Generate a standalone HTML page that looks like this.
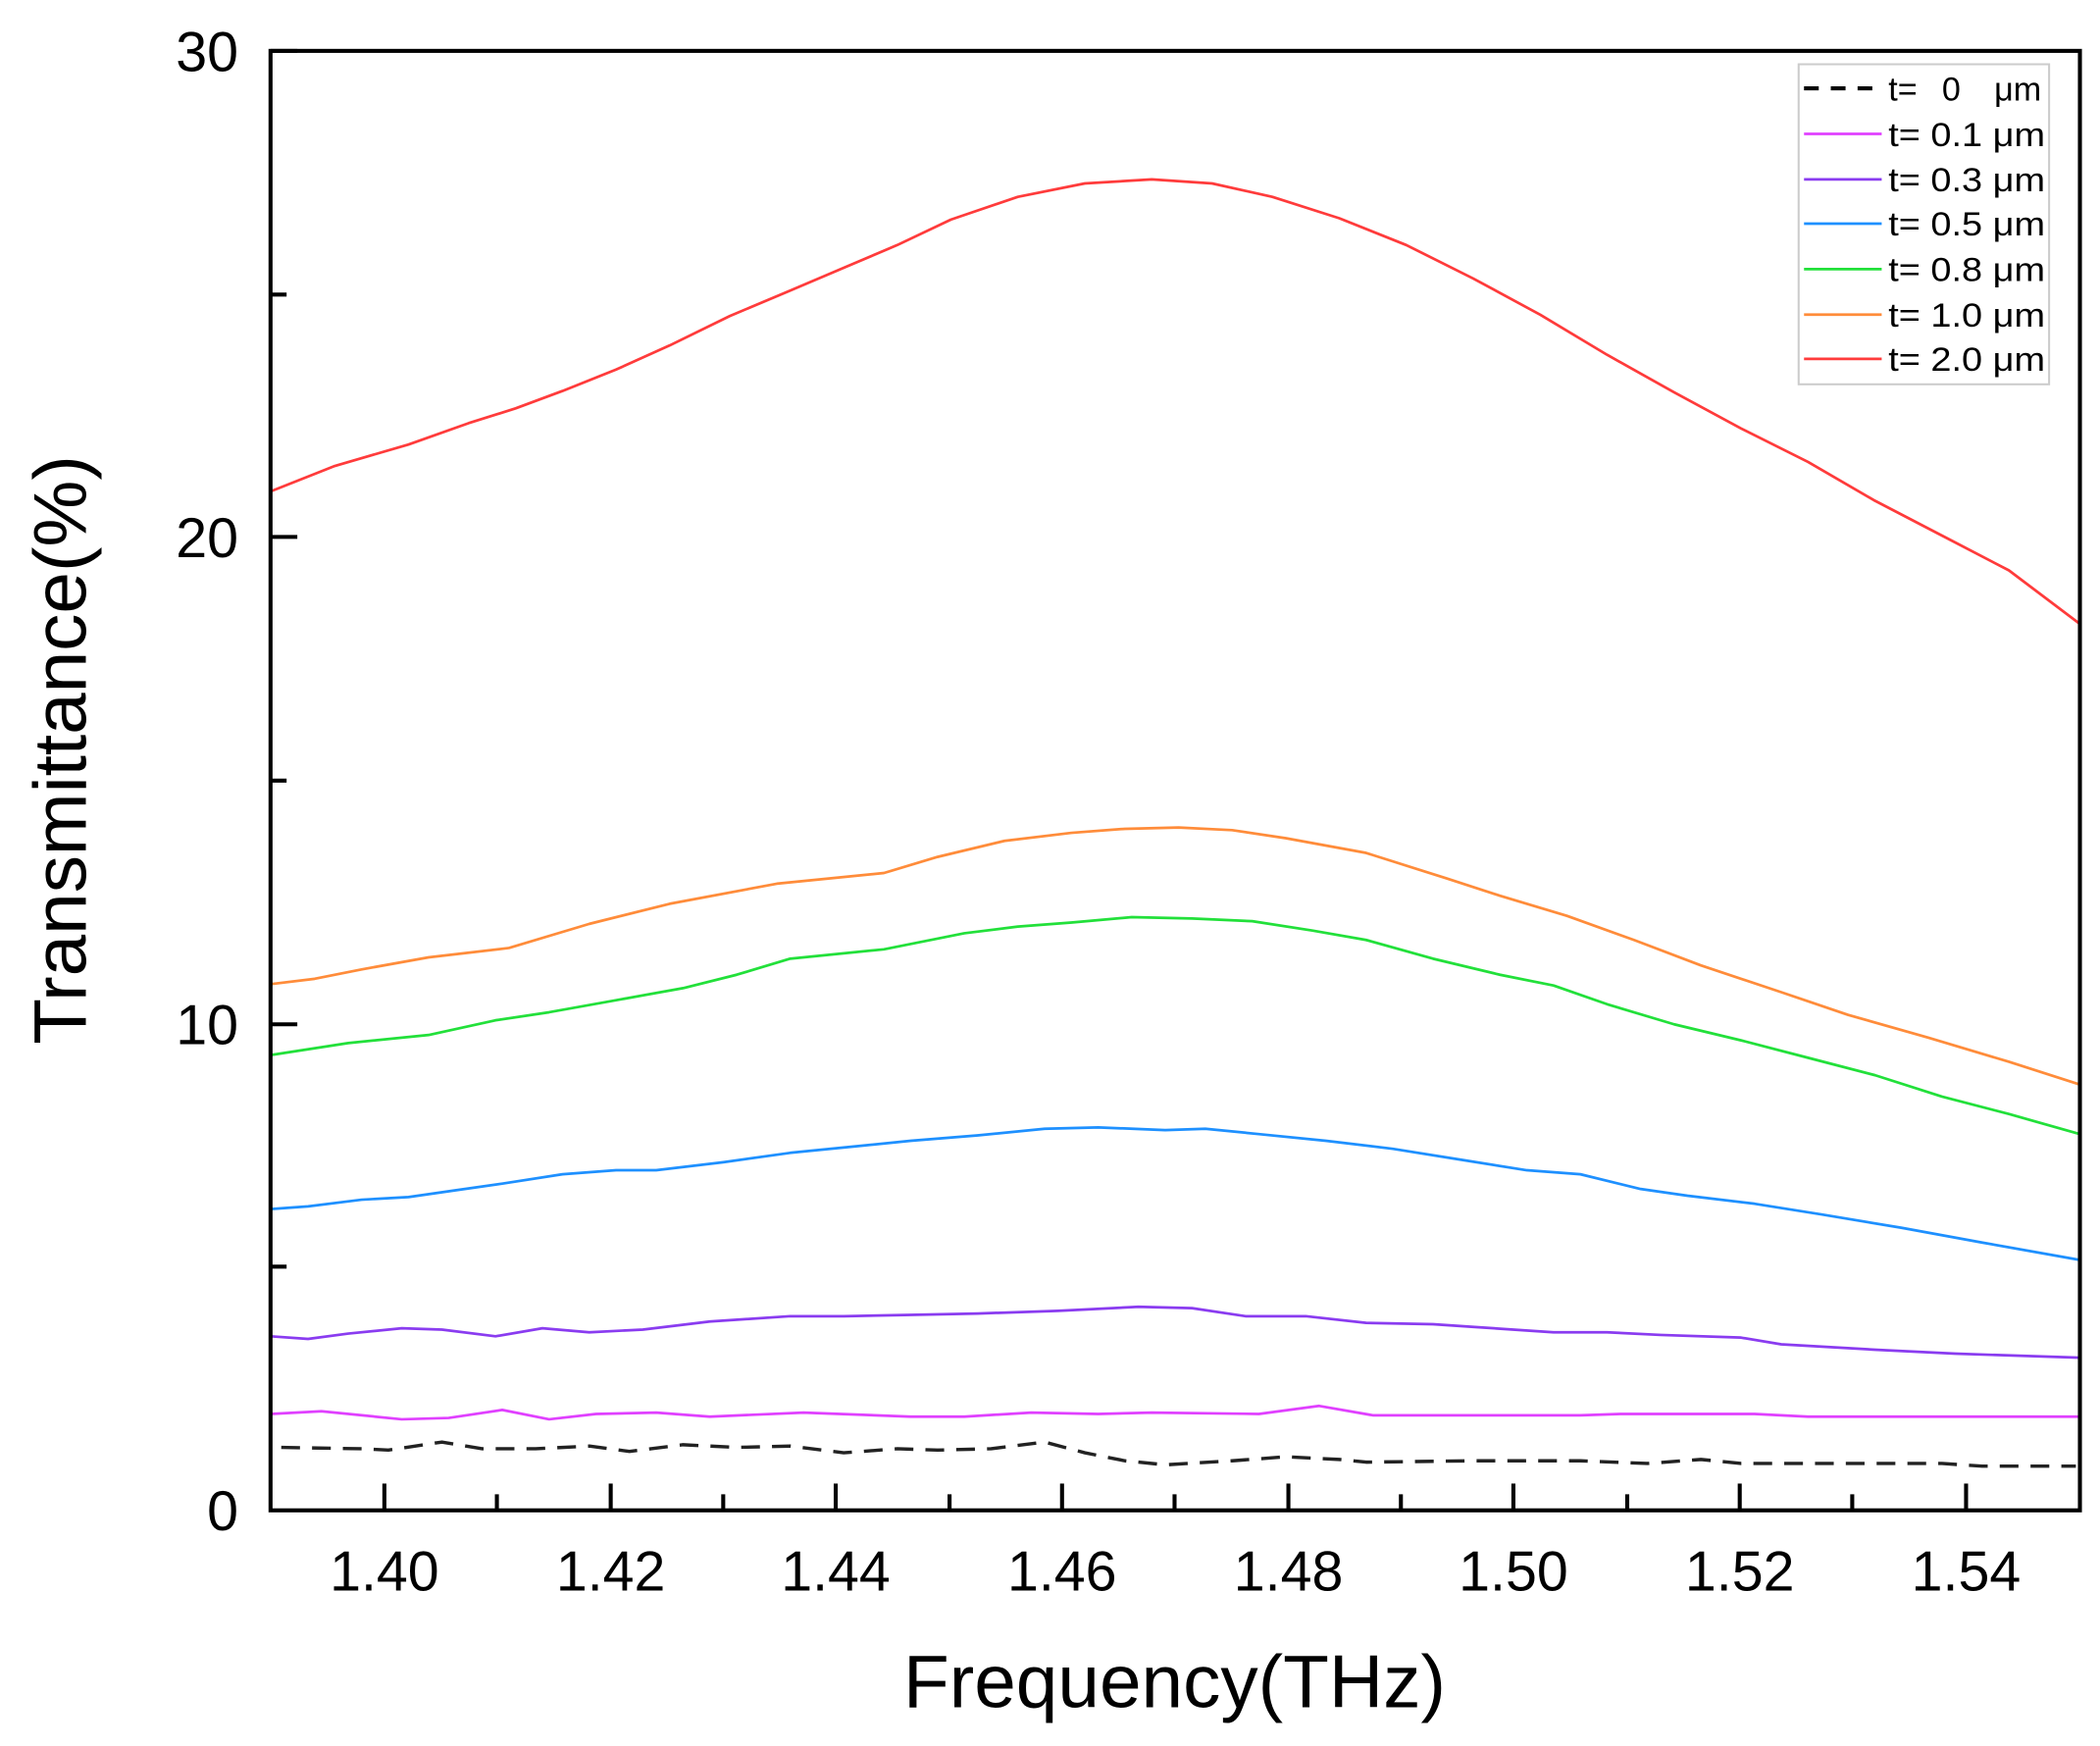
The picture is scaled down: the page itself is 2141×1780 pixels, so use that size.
<!DOCTYPE html>
<html><head><style>html,body{margin:0;padding:0;background:#fff}svg{display:block}</style></head>
<body>
<svg width="2141" height="1780" viewBox="0 0 1568 1304" preserveAspectRatio="none" xmlns="http://www.w3.org/2000/svg" font-family="Liberation Sans, Arial, sans-serif">
<rect width="1568" height="1304" fill="#fff"/>
<g fill="none" stroke-width="2" stroke-linejoin="round">
<polyline stroke="#ff3b3b" points="202,367 250,348 305,332 350,316 385,305 420,292 460,276 500,258 545,236 590,217 630,200 670,183 710,164 760,147 810,137 860,134 905,137 950,147 1000,163 1050,183 1100,208 1150,235 1200,265 1250,293 1300,320 1350,345 1400,374 1450,400 1500,426 1553,466"/>
<polyline stroke="#ff8c3a" points="202,735 235,731 270,724 320,715 380,708 440,690 500,675 580,660 660,652 700,640 750,628 800,622 840,619 880,618 920,620 960,626 1020,637 1080,656 1120,669 1170,684 1220,702 1270,721 1330,741 1380,758 1440,775 1500,793 1553,810"/>
<polyline stroke="#22e03a" points="202,788 260,779 320,773 370,762 410,756 460,747 510,738 550,728 590,716 660,709 720,697 760,692 800,689 845,685 890,686 935,688 980,695 1020,702 1070,716 1120,728 1160,736 1200,750 1250,765 1300,777 1350,790 1400,803 1450,819 1500,832 1553,847"/>
<polyline stroke="#1e90ff" points="202,903 230,901 270,896 305,894 340,889 375,884 420,877 460,874 490,874 540,868 590,861 640,856 680,852 730,848 780,843 820,842 870,844 900,843 940,847 990,852 1040,858 1090,866 1140,874 1180,877 1225,888 1260,893 1310,899 1360,907 1420,917 1480,928 1553,941"/>
<polyline stroke="#8a3cf0" points="202,998 230,1000 260,996 300,992 330,993 370,998 405,992 440,995 480,993 530,987 590,983 630,983 680,982 730,981 790,979 850,976 890,977 930,983 975,983 1020,988 1070,989 1100,991 1160,995 1200,995 1240,997 1300,999 1330,1004 1400,1008 1460,1011 1553,1014"/>
<polyline stroke="#e040ff" points="202,1056 240,1054 300,1060 335,1059 375,1053 410,1060 445,1056 490,1055 530,1058 600,1055 680,1058 720,1058 770,1055 820,1056 860,1055 940,1056 985,1050 1025,1057 1100,1057 1180,1057 1210,1056 1310,1056 1350,1058 1553,1058"/>
<polyline stroke="#222" stroke-width="2.5" stroke-dasharray="14,9" points="210,1081 270,1082 290,1083 330,1077 360,1082 400,1082 440,1080 470,1084 510,1079 550,1081 590,1080 630,1085 670,1082 700,1083 740,1082 780,1077 810,1085 840,1091 870,1094 920,1091 960,1088 1000,1090 1020,1092 1100,1091 1180,1091 1230,1093 1270,1090 1300,1093 1450,1093 1480,1095 1550,1095"/>
</g>
<rect x="202" y="38" width="1351" height="1090" fill="none" stroke="#000" stroke-width="3"/>
<g stroke="#000" stroke-width="3">
<line x1="202" y1="38" x2="222" y2="38"/><line x1="202" y1="401" x2="222" y2="401"/><line x1="202" y1="765" x2="222" y2="765"/>
<line x1="202" y1="220" x2="214" y2="220"/><line x1="202" y1="583" x2="214" y2="583"/><line x1="202" y1="946" x2="214" y2="946"/>
<line x1="287" y1="1128" x2="287" y2="1108"/><line x1="456" y1="1128" x2="456" y2="1108"/><line x1="624" y1="1128" x2="624" y2="1108"/><line x1="793" y1="1128" x2="793" y2="1108"/><line x1="962" y1="1128" x2="962" y2="1108"/><line x1="1130" y1="1128" x2="1130" y2="1108"/><line x1="1299" y1="1128" x2="1299" y2="1108"/><line x1="1468" y1="1128" x2="1468" y2="1108"/>
<line x1="371" y1="1128" x2="371" y2="1116"/><line x1="540" y1="1128" x2="540" y2="1116"/><line x1="709" y1="1128" x2="709" y2="1116"/><line x1="877" y1="1128" x2="877" y2="1116"/><line x1="1046" y1="1128" x2="1046" y2="1116"/><line x1="1215" y1="1128" x2="1215" y2="1116"/><line x1="1383" y1="1128" x2="1383" y2="1116"/>
</g>
<g font-size="42" fill="#000">
<text x="178" y="53" text-anchor="end">30</text>
<text x="178" y="416" text-anchor="end">20</text>
<text x="178" y="780" text-anchor="end">10</text>
<text x="178" y="1143" text-anchor="end">0</text>
</g>
<g font-size="42" fill="#000" text-anchor="middle">
<text x="287" y="1188">1.40</text><text x="456" y="1188">1.42</text><text x="624" y="1188">1.44</text><text x="793" y="1188">1.46</text><text x="962" y="1188">1.48</text><text x="1130" y="1188">1.50</text><text x="1299" y="1188">1.52</text><text x="1468" y="1188">1.54</text>
</g>
<text x="877" y="1275" font-size="56" text-anchor="middle" textLength="405" lengthAdjust="spacingAndGlyphs">Frequency(THz)</text>
<text transform="translate(64,560) rotate(-90)" font-size="56" text-anchor="middle" textLength="440" lengthAdjust="spacingAndGlyphs">Transmittance(%)</text>
<rect x="1343" y="48" width="187" height="239" fill="#fff" stroke="#ccc" stroke-width="1.5"/>
<g stroke-width="2">
<line x1="1347" y1="66" x2="1405" y2="66" stroke="#000" stroke-width="3" stroke-dasharray="11,9"/>
<line x1="1347" y1="100" x2="1405" y2="100" stroke="#e040ff"/>
<line x1="1347" y1="134" x2="1405" y2="134" stroke="#8a3cf0"/>
<line x1="1347" y1="167" x2="1405" y2="167" stroke="#1e90ff"/>
<line x1="1347" y1="201" x2="1405" y2="201" stroke="#22e03a"/>
<line x1="1347" y1="235" x2="1405" y2="235" stroke="#ff8c3a"/>
<line x1="1347" y1="268" x2="1405" y2="268" stroke="#ff3b3b"/>
</g>
<g font-size="25" fill="#000">
<text x="1410" y="75">t=</text><text x="1450" y="75">0</text><text x="1489" y="75">μm</text>
<text x="1410" y="109" textLength="117" lengthAdjust="spacingAndGlyphs">t= 0.1 μm</text>
<text x="1410" y="143" textLength="117" lengthAdjust="spacingAndGlyphs">t= 0.3 μm</text>
<text x="1410" y="176" textLength="117" lengthAdjust="spacingAndGlyphs">t= 0.5 μm</text>
<text x="1410" y="210" textLength="117" lengthAdjust="spacingAndGlyphs">t= 0.8 μm</text>
<text x="1410" y="244" textLength="117" lengthAdjust="spacingAndGlyphs">t= 1.0 μm</text>
<text x="1410" y="277" textLength="117" lengthAdjust="spacingAndGlyphs">t= 2.0 μm</text>
</g>
</svg>
</body></html>
